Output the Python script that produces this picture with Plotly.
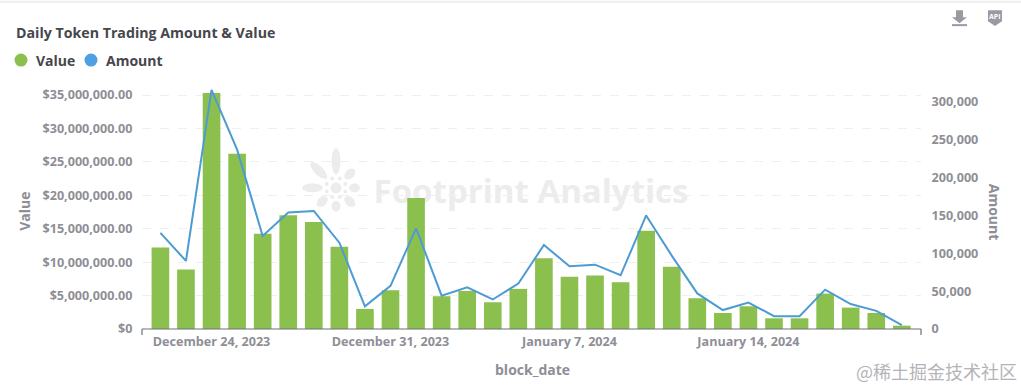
import math
import plotly.graph_objects as go

dates = ["December 22, 2023", "December 23, 2023", "December 24, 2023", "December 25, 2023", "December 26, 2023",
         "December 27, 2023", "December 28, 2023", "December 29, 2023", "December 30, 2023", "December 31, 2023",
         "January 1, 2024", "January 2, 2024", "January 3, 2024", "January 4, 2024", "January 5, 2024",
         "January 6, 2024", "January 7, 2024", "January 8, 2024", "January 9, 2024", "January 10, 2024",
         "January 11, 2024", "January 12, 2024", "January 13, 2024", "January 14, 2024", "January 15, 2024",
         "January 16, 2024", "January 17, 2024", "January 18, 2024", "January 19, 2024", "January 20, 2024"]
value = [12.2e6, 8.9e6, 35.3e6, 26.2e6, 14.25e6, 17.0e6, 16.0e6, 12.3e6, 3.0e6, 5.8e6,
         19.6e6, 4.9e6, 5.7e6, 4.0e6, 6.0e6, 10.6e6, 7.8e6, 8.0e6, 7.0e6, 14.7e6,
         9.3e6, 4.6e6, 2.4e6, 3.4e6, 1.6e6, 1.6e6, 5.3e6, 3.2e6, 2.4e6, 0.5e6]
amount = [127000, 90000, 316000, 237000, 123000, 154000, 156000, 114000, 30000, 57000,
          133000, 44000, 55000, 39000, 60000, 111000, 83000, 85000, 71000, 150000,
          97000, 47000, 25000, 35000, 17000, 17000, 52000, 33000, 24000, 5000]
x_ticks = ["December 24, 2023", "December 31, 2023", "January 7, 2024", "January 14, 2024"]
left_ticks = [0, 5000000, 10000000, 15000000, 20000000, 25000000, 30000000, 35000000]
right_ticks = [0, 50000, 100000, 150000, 200000, 250000, 300000]

W, H = 1021, 389
L, R, T, B = 142, 921, 85, 329.5
FONT = "Open Sans"
GREEN, BLUE, LINE = "#8bc04f", "#4fa0e2", "#4d9bd3"
TICK, DARK = "#8e8e96", "#46464c"
MARK = "#ececec"


def fx(p):
    return (p - L) / (R - L)


def fy(p):
    return (B - p) / (B - T)


def poly(points, color, layer="above"):
    path = "M" + " L".join(f"{fx(a):.5f},{fy(b):.5f}" for a, b in points) + " Z"
    return dict(type="path", xref="paper", yref="paper", path=path, fillcolor=color,
                line=dict(width=0), layer=layer)


def circle(cx, cy, rx, ry, color, layer="above"):
    return dict(type="circle", xref="paper", yref="paper", x0=fx(cx - rx), x1=fx(cx + rx),
                y0=fy(cy + ry), y1=fy(cy - ry), fillcolor=color, line=dict(width=0), layer=layer)


def seg(x0, y0, x1, y1, color, width=1):
    return dict(type="line", xref="paper", yref="paper", x0=fx(x0), x1=fx(x1), y0=fy(y0), y1=fy(y1),
                line=dict(color=color, width=width))


def note(text, px, py, size, color, anchor="left", angle=0, family=FONT, bold=True):
    return dict(text=f"<b>{text}</b>" if bold else text, x=fx(px), y=fy(py), xref="paper", yref="paper",
                xanchor=anchor, yanchor="middle", showarrow=False, textangle=angle, borderpad=0,
                font=dict(family=family, size=size, color=color))


fig = go.Figure()
fig.add_trace(go.Bar(x=dates, y=value, name="Value", marker=dict(color=GREEN, line=dict(width=0)),
                     width=0.69, yaxis="y", showlegend=False))
fig.add_trace(go.Scatter(x=dates, y=amount, name="Amount", mode="lines", line=dict(color=LINE, width=2),
                         yaxis="y2", showlegend=False))

shapes = [
    seg(0, 1.5, W, 1.5, "#eeeeee", 2),
    seg(L, B, R, B, "#6e7079", 1.2),
    seg(L, B, L, B + 6, "#6e7079", 1.2),
    seg(R, B, R, B + 6, "#6e7079", 1.2),
    circle(21, 60, 6.5, 6.5, GREEN),
    circle(91, 60, 6.5, 6.5, BLUE),
    # download icon
    poly([(956, 10), (963, 10), (963, 17), (967, 17), (959.5, 23), (952, 17), (956, 17)], "#9a9aa2"),
    poly([(952, 24), (967, 24), (967, 26), (952, 26)], "#9a9aa2"),
    # API icon
    poly([(988, 10), (1002, 10), (1002, 21), (995, 26), (988, 21)], "#9a9aa2"),
    # watermark logo, behind the marks
    circle(336, 188, 5.5, 5.5, MARK, "below"),
    # watermark text, behind the marks
    dict(type="rect", xref="paper", yref="paper", x0=fx(373), x1=fx(689), y0=fy(210), y1=fy(176),
         line=dict(width=0), fillcolor="rgba(0,0,0,0)", layer="below",
         label=dict(text="<b>Footprint Analytics</b>", textposition="middle center",
                    font=dict(family=FONT, size=33, color=MARK))),
]
# petal reach per direction, starting east and turning clockwise on screen
reach = [24, 26, 24, 26, 34, 36, 40, 26]
for i in range(8):
    a = i * math.pi / 4
    c, s = math.cos(a), math.sin(a)
    mid = (reach[i] + 13) / 2
    half = (reach[i] - 13) / 2
    pts = []
    for k in range(12):
        t = k * math.pi / 6
        u = mid + half * math.cos(t)
        v = 4.5 * math.sin(t)
        pts.append((336 + u * c - v * s, 188 + u * s + v * c))
    shapes.append(poly(pts, MARK, "below"))
    shapes.append(circle(336 + 10 * math.cos(a + math.pi / 8), 188 + 10 * math.sin(a + math.pi / 8),
                         2, 2, MARK, "below"))

annotations = [
    note("Daily Token Trading Amount &amp; Value", 15, 32.5, 14.2, DARK),
    note("Value", 34.5, 60, 14, DARK),
    note("Amount", 105, 60, 14, DARK),
    note("Value", 25, 212, 14, TICK, "center", -90),
    note("Amount", 994, 212, 14, TICK, "center", 90),
    note("block_date", 532, 370, 14, TICK, "center"),
    note("@稀土掘金技术社区", 855, 372, 18, "#b4b4b8", family="Noto Sans CJK SC", bold=False),
    note("API", 995, 16, 7, "#ffffff", "center"),
]

fig.update_layout(
    width=W, height=H, autosize=False,
    margin=dict(l=L, r=W - R, t=T, b=H - B, pad=0),
    paper_bgcolor="#ffffff", plot_bgcolor="#ffffff",
    showlegend=False, bargap=0.31,
    font=dict(family=FONT, size=12.6, color=TICK),
    xaxis=dict(type="category", categoryorder="array", categoryarray=dates, range=[-0.72, 29.75],
               tickmode="array", tickvals=x_ticks, ticktext=[f"<b>{t}</b>" for t in x_ticks],
               showgrid=False, showline=False, zeroline=False, ticks="outside", ticklen=1,
               tickcolor="rgba(0,0,0,0)", tickfont=dict(size=12.6, color=TICK)),
    yaxis=dict(range=[0, 36.5e6], tickmode="array", tickvals=left_ticks,
               ticktext=[f"<b>${v:,.2f}</b>" if v else "<b>$0</b>" for v in left_ticks],
               showgrid=True, gridcolor="#efefef", griddash="dash", gridwidth=1, zeroline=False, showline=False,
               ticks="outside", ticklen=6, tickcolor="rgba(0,0,0,0)", tickfont=dict(size=12.6, color=TICK)),
    yaxis2=dict(range=[0, 322.4e3], overlaying="y", side="right", tickmode="array", tickvals=right_ticks,
                ticktext=[f"<b>{v:,}</b>" for v in right_ticks], showgrid=False, zeroline=False, showline=False,
                ticks="outside", ticklen=7, tickcolor="rgba(0,0,0,0)", tickfont=dict(size=12.6, color=TICK)),
    shapes=shapes, annotations=annotations,
)
fig.write_html("out.html", config=dict(displayModeBar=False),
               post_script="document.body.style.margin='0';document.body.style.overflow='hidden';")
